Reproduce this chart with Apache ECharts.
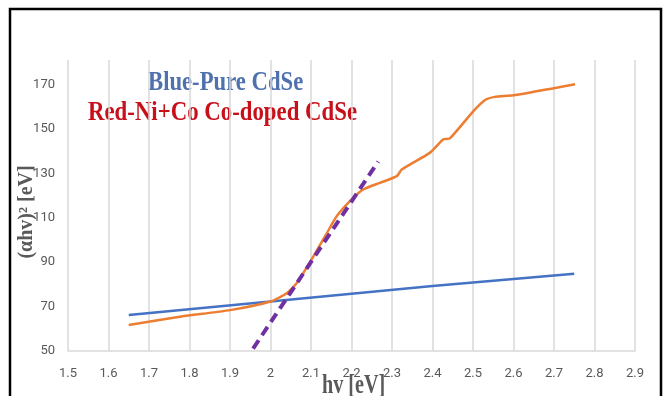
<!DOCTYPE html>
<html>
<head>
<meta charset="utf-8">
<script src="https://cdn.jsdelivr.net/npm/echarts@6/dist/echarts.min.js"></script>
<style>
html,body{margin:0;padding:0;background:#fff;}
#chart{width:667px;height:396px;}
</style>
</head>
<body>
<div id="chart"></div>
<script>
// Data
var blueX = [1.65, 2.0, 2.4, 2.75];
var blueY = [66.2, 72.3, 79.3, 84.8];

var orangeX = [1.65, 1.78, 1.9, 2.0, 2.04, 2.065, 2.106, 2.139, 2.163, 2.204, 2.229, 2.27, 2.312, 2.324, 2.394, 2.427, 2.443, 2.501, 2.53, 2.554, 2.6, 2.752];
var orangeY = [61.7, 65.5, 68.4, 72.3, 76.0, 80.6, 92.6, 103.0, 110.6, 118.9, 122.7, 125.7, 128.7, 131.7, 139.3, 145.3, 145.7, 158.0, 163.0, 164.4, 165.1, 170.1];

var fitX = [1.957, 2.266];
var fitY = [51.1, 135.3];

var legendBlue = "Blue-Pure CdSe";
var legendRed = "Red-Ni+Co Co-doped CdSe";
var yTitle = "(αhv)² [eV]";
var xTitle = "hv [eV]";

function pairs(xs, ys){ return xs.map(function(x,i){ return [x, ys[i]]; }); }

var chart = echarts.init(document.getElementById('chart'));
var tickFont = "'Liberation Sans Narrow', 'Roboto', sans-serif";
var serif = "'Liberation Serif', 'DejaVu Serif', serif";
chart.setOption({
  animation: false,
  backgroundColor: '#ffffff',
  grid: {left: 68, right: 32, top: 60, bottom: 45},
  xAxis: {
    type: 'value', min: 1.5, max: 2.9, interval: 0.1,
    axisLine: {show: true, lineStyle: {color: '#D9D9D9', width: 1.5}},
    axisTick: {show: false},
    splitLine: {show: true, lineStyle: {color: '#D9D9D9', width: 1.5}},
    axisLabel: {color: '#595959', fontFamily: tickFont, fontSize: 13, margin: 16,
      formatter: function(v){ return String(+v.toFixed(1)); }}
  },
  yAxis: {
    type: 'value', min: 50, max: 181, interval: 20,
    axisLine: {show: false},
    axisTick: {show: false},
    splitLine: {show: false},
    axisLabel: {color: '#595959', fontFamily: tickFont, fontSize: 13, margin: 13, showMaxLabel: false}
  },
  series: [
    {type: 'line', data: pairs(blueX, blueY), showSymbol: false, smooth: false,
     lineStyle: {color: '#4472C4', width: 2.5}},
    {type: 'line', data: pairs(orangeX, orangeY), showSymbol: false, smooth: 0.2,
     lineStyle: {color: '#ED7D31', width: 2.5}},
    {type: 'line', data: pairs(fitX, fitY), showSymbol: false,
     lineStyle: {color: '#7030A0', width: 4, type: [10, 6]}}
  ],
  graphic: [
    {type: 'rect', shape: {x: 10, y: 9, width: 651, height: 420}, style: {fill: 'none', stroke: '#000', lineWidth: 2.5}, silent: true},
    {type: 'text', x: 148, y: 70, scaleX: 0.84, style: {text: legendBlue, fill: '#4F72AE', font: 'bold 27px ' + serif, textVerticalAlign: 'top'}},
    {type: 'text', x: 88, y: 100, scaleX: 0.845, style: {text: legendRed, fill: '#C8101A', font: 'bold 27px ' + serif, textVerticalAlign: 'top'}},
    {type: 'text', x: 27, y: 212, rotation: Math.PI/2, style: {text: yTitle, fill: '#595959', font: 'bold 20px ' + serif, textAlign: 'center', textVerticalAlign: 'middle'}},
    {type: 'text', x: 322, y: 372, scaleX: 0.72, style: {text: xTitle, fill: '#595959', font: 'bold 28px ' + serif, textVerticalAlign: 'top'}}
  ]
});
</script>
</body>
</html>
